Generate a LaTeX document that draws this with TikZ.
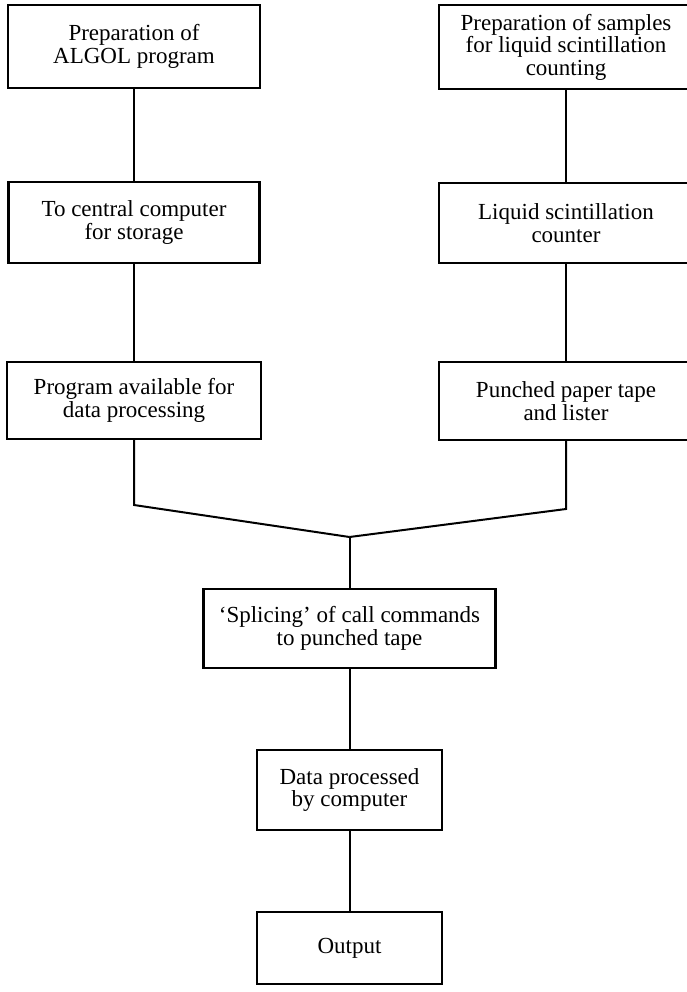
\documentclass[tikz,border=0pt]{standalone}
\usepackage{fontspec}
\setmainfont{Liberation Serif}
\begin{document}
\begin{tikzpicture}[x=1pt,y=-1pt,
  box/.style={draw, line width=2.2pt, inner sep=0pt, align=center,
    font=\fontsize{23}{22.5}\selectfont},
  conn/.style={line width=2pt}]
\useasboundingbox (0,0) rectangle (686,992);
% left column
\node[box, minimum width=252pt, minimum height=83pt] (a1) at (134,46.5) {Preparation of\\ALGOL program};
\node[box, minimum width=251pt, minimum height=81pt] (a3) at (134,222.5) {To central computer\\for storage};
\node[box, minimum width=254pt, minimum height=77pt] (a5) at (134,400.5) {Program available for\\data processing};
% right column
\node[box, minimum width=254pt, minimum height=84pt] (b2) at (566,47) {Preparation of samples\\for liquid scintillation\\counting};
\node[box, minimum width=254pt, minimum height=80pt] (b4) at (566,223) {Liquid scintillation\\counter};
\node[box, minimum width=254pt, minimum height=78pt] (b6) at (566,401) {Punched paper tape\\and lister};
% lower column
\node[box, minimum width=292pt, minimum height=79pt] (sp) at (349.5,628.5) {`Splicing' of call commands\\to punched tape};
\node[box, minimum width=185pt, minimum height=80pt] (dp) at (349.5,790) {Data processed\\by computer};
\node[box, minimum width=185pt, minimum height=72pt] (out) at (349.5,948) {Output};
% connectors
\coordinate (L) at (134,505);
\coordinate (R) at (566,509);
\coordinate (J) at (349.5,537);
\draw[conn] (a1.south) -- (a3.north);
\draw[conn] (a3.south) -- (a5.north);
\draw[conn] (b2.south) -- (b4.north);
\draw[conn] (b4.south) -- (b6.north);
\draw[conn] (a5.south) -- (L) -- (J);
\draw[conn] (b6.south) -- (R) -- (J);
\draw[conn] (J) -- (sp.north);
\draw[conn] (sp.south) -- (dp.north);
\draw[conn] (dp.south) -- (out.north);
\end{tikzpicture}
\end{document}
